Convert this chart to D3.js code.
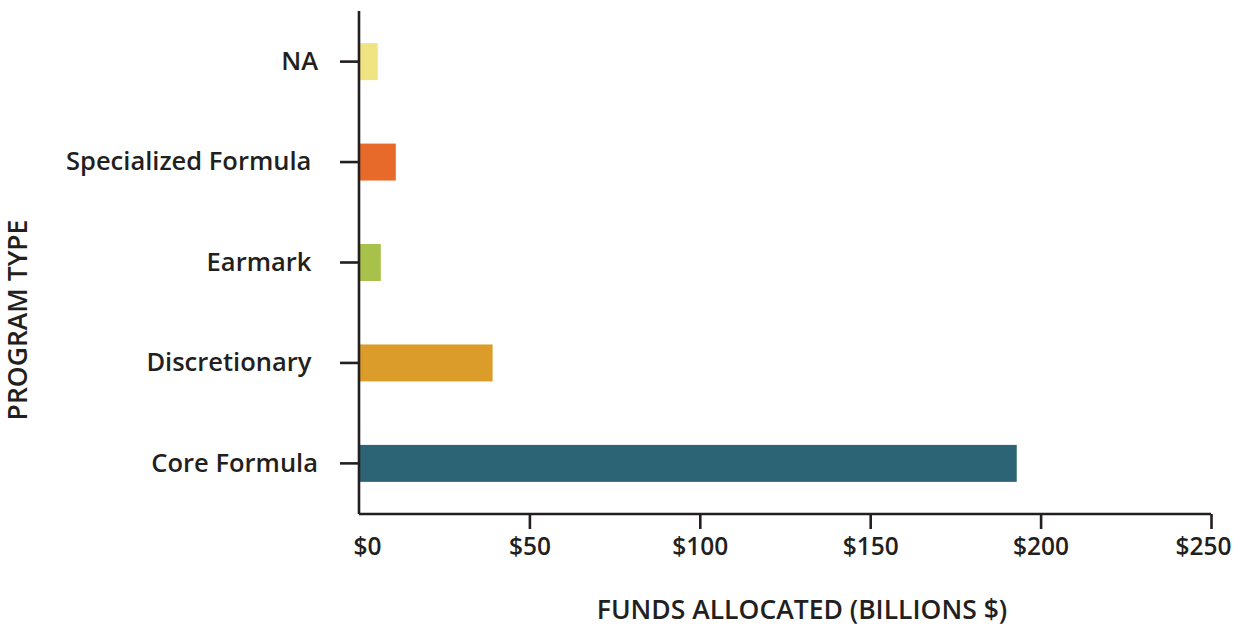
<!DOCTYPE html>
<html><head><meta charset="utf-8">
<script src="https://cdn.jsdelivr.net/npm/d3@7/dist/d3.min.js"></script>
<style>body{margin:0;background:#fff;}svg{display:block;}</style>
</head><body>
<svg id="chart" width="1242" height="627"></svg>
<script>
const categories = ["NA", "Specialized Formula", "Earmark", "Discretionary", "Core Formula"];
const labels = ["NA", "Specialized Formula ", "Earmark ", "Discretionary ", "Core Formula"];
const values = [5.5, 10.8, 6.4, 39.2, 193.0];
const colors = ["#f0e482", "#e86a2a", "#a8c14a", "#db9c29", "#2d6475"];
const xTicks = [0, 50, 100, 150, 200, 250];
const xTickLabels = ["$0", "$50", "$100", "$150", "$200", "$250"];

(function () {
const svg = d3.select("#chart");
const font = "'Open Sans', Lato, sans-serif";
const ink = "#231f20";
const weight = 600;
const pLeft = 359, pRight = 1211, pTop = 11, pBottom = 514;

const x = d3.scaleLinear().domain([0, 250]).range([pLeft, pRight]);
const y = d3.scaleBand().domain(categories).range([pTop, pBottom]).paddingInner(0.632).paddingOuter(0.32);

// bars
svg.append("g").selectAll("rect").data(categories).join("rect")
  .attr("x", x(0) + 1)
  .attr("y", d => y(d))
  .attr("width", (d, i) => x(values[i]) - x(0) - 1)
  .attr("height", y.bandwidth())
  .attr("fill", (d, i) => colors[i]);

// y axis
const yAxis = svg.append("g").attr("transform", `translate(${pLeft},0)`)
  .call(d3.axisLeft(y).tickSize(19).tickPadding(22).tickFormat((d, i) => labels[i]));
yAxis.select(".domain").attr("d", `M0,${pTop}V${pBottom}`).attr("stroke", ink).attr("stroke-width", 2.6);
yAxis.selectAll(".tick line").attr("stroke", ink).attr("stroke-width", 2.6);
yAxis.selectAll(".tick text").attr("fill", ink).style("font-family", font)
  .style("font-size", "25.5px").style("font-weight", weight).style("white-space", "pre");

// x axis
const xAxis = svg.append("g").attr("transform", `translate(0,${pBottom})`)
  .call(d3.axisBottom(x).tickValues(xTicks).tickSize(15).tickPadding(9).tickFormat((d, i) => xTickLabels[i]));
xAxis.select(".domain").attr("d", `M${pLeft},0H${pRight}`).attr("stroke", ink).attr("stroke-width", 2.6);
xAxis.selectAll(".tick line").attr("stroke", ink).attr("stroke-width", 2.6)
  .attr("opacity", d => d === 0 ? 0 : 1);
xAxis.selectAll(".tick text").attr("fill", ink).style("font-family", font)
  .style("font-size", "24.5px").style("font-weight", weight)
  .attr("dx", d => d === 0 ? 8 : (d === 250 ? -8 : 0));

// axis titles
svg.append("text").attr("x", 802).attr("y", 619).attr("text-anchor", "middle")
  .attr("fill", ink).style("font-family", font).style("font-size", "26.5px").style("font-weight", weight)
  .text("FUNDS ALLOCATED (BILLIONS $)");
svg.append("text").attr("transform", "translate(27,320) rotate(-90)").attr("text-anchor", "middle")
  .attr("fill", ink).style("font-family", font).style("font-size", "26.5px").style("font-weight", weight)
  .text("PROGRAM TYPE");
})();
</script>
</body></html>
